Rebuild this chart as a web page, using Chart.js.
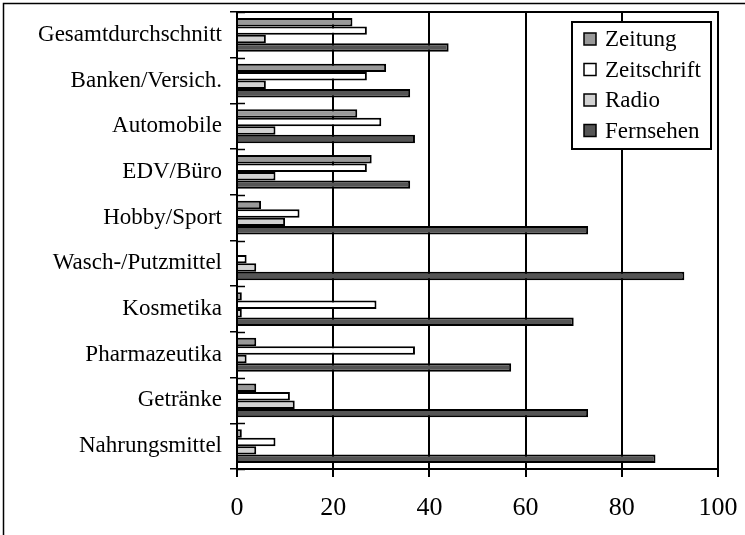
<!DOCTYPE html>
<html>
<head>
<meta charset="utf-8">
<script src="https://cdn.jsdelivr.net/npm/chart.js@4/dist/chart.umd.min.js"></script>
<style>
  html, body { margin: 0; padding: 0; background: #fff; }
  #wrap { width: 745px; height: 535px; }
</style>
</head>
<body>
<div id="wrap"><canvas id="myChart" width="745" height="535"></canvas></div>
<script>
  const categories = ['Gesamtdurchschnitt', 'Banken/Versich.', 'Automobile', 'EDV/Büro', 'Hobby/Sport',
    'Wasch-/Putzmittel', 'Kosmetika', 'Pharmazeutika', 'Getränke', 'Nahrungsmittel'];
  const zeitung = [24, 31, 25, 28, 5, 0, 1, 4, 4, 1];
  const zeitschrift = [27, 27, 30, 27, 13, 2, 29, 37, 11, 8];
  const radio = [6, 6, 8, 8, 10, 4, 1, 2, 12, 4];
  const fernsehen = [44, 36, 37, 36, 73, 93, 70, 57, 73, 87];
  const xTicks = [0, 20, 40, 60, 80, 100];

  const serif = "'Liberation Serif', 'Times New Roman', serif";

  //frame, cross ticks and legend
  const decor = {
    id: 'decor',
    beforeDraw(chart) {
      const c = chart.ctx;
      c.save();
      c.strokeStyle = '#000';
      c.lineWidth = 1.5;
      c.strokeRect(3.5, 3.5, 900, 900);
      c.restore();
    },
    afterDraw(chart) {
      const c = chart.ctx;
      const a = chart.chartArea;
      const y = chart.scales.y;
      c.save();
      c.strokeStyle = '#000';
      c.lineWidth = 2;
      c.strokeRect(a.left, a.top, a.right - a.left, a.bottom - a.top);
      c.lineWidth = 1.5;
      for (let i = 0; i <= categories.length; i++) {
        const py = Math.round(y.getPixelForValue(i - 0.5)) + 0.5;
        c.beginPath();
        c.moveTo(a.left, py);
        c.lineTo(a.left + 8, py);
        c.stroke();
      }

      // legend box
      const bx = 572, by = 22, bw = 139, bh = 127;
      c.fillStyle = '#fff';
      c.fillRect(bx, by, bw, bh);
      c.lineWidth = 2;
      c.strokeRect(bx, by, bw, bh);
      c.font = '23px ' + serif;
      c.textBaseline = 'middle';
      chart.data.datasets.forEach(function (ds, i) {
        const ry = 39 + i * 30.5;
        c.fillStyle = ds.backgroundColor;
        c.fillRect(584, ry - 6, 12, 12);
        c.lineWidth = 1.5;
        c.strokeStyle = '#000';
        c.strokeRect(584, ry - 6, 12, 12);
        c.fillStyle = '#000';
        c.fillText(ds.label, 605, ry + 1);
      });
      c.restore();
    }
  };

  const ctx = document.getElementById('myChart').getContext('2d');

  const chart = new Chart(ctx, {
    type: 'bar',
    data: {
      labels: categories,
      datasets: [{
        label: 'Zeitung',
        backgroundColor: '#999999',
        data: zeitung
      },
      {
        label: 'Zeitschrift',
        backgroundColor: '#ffffff',
        data: zeitschrift
      },
      {
        label: 'Radio',
        backgroundColor: '#d2d2d2',
        data: radio
      },
      {
        label: 'Fernsehen',
        backgroundColor: '#555555',
        data: fernsehen
      }]
    },
    options: {
      indexAxis: 'y',
      responsive: false,
      animation: false,
      events: [],
      layout: { padding: { top: 12, right: 27, left: 0, bottom: 0 } },
      datasets: {
        bar: {
          borderColor: '#000',
          borderWidth: 2,
          categoryPercentage: 0.74,
          barPercentage: 1.0
        }
      },
      plugins: {
        legend: { display: false },
        tooltip: { enabled: false }
      },
      scales: {
        x: {
          min: 0,
          max: 100,
          afterBuildTicks(scale) {
            scale.ticks = xTicks.map(function (v) { return { value: v }; });
          },
          afterFit(scale) {
            scale.height = 66;
            scale.paddingLeft = 0;
            scale.paddingRight = 0;
          },
          grid: { color: '#000', lineWidth: 2, tickLength: 8 },
          border: { color: '#000', width: 2 },
          ticks: { color: '#000', font: { family: serif, size: 26 }, padding: 16 }
        },
        y: {
          afterFit(scale) {
            scale.width = 237;
            scale.paddingTop = 0;
            scale.paddingBottom = 0;
          },
          grid: { drawOnChartArea: false, offset: true, color: '#000', lineWidth: 1.5, tickLength: 7 },
          border: { color: '#000', width: 2 },
          ticks: { color: '#000', font: { family: serif, size: 23 }, padding: 8, autoSkip: false }
        }
      }
    },
    plugins: [decor]
  });
</script>
</body>
</html>
